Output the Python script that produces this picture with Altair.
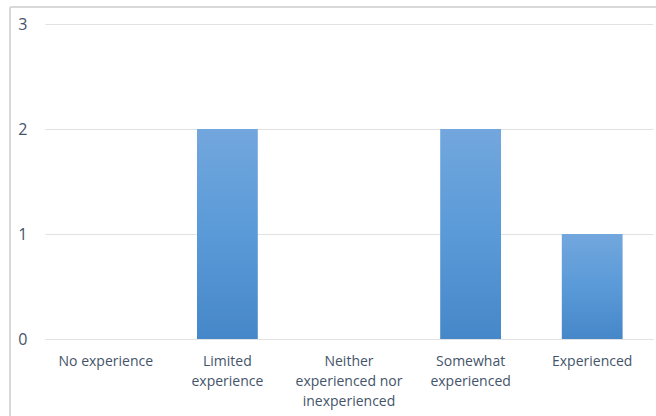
import altair as alt
import pandas as pd
import json

categories = ["No experience", "Limited experience", "Neither experienced nor inexperienced",
              "Somewhat experienced", "Experienced"]
label_lines = [["No experience"], ["Limited", "experience"], ["Neither", "experienced nor", "inexperienced"],
               ["Somewhat", "experienced"], ["Experienced"]]
counts = [0, 2, 0, 2, 1]
y_ticks = [0, 1, 2, 3]

df = pd.DataFrame({"category": categories, "count": counts})

mapping = json.dumps(dict(zip(categories, label_lines)))
label_expr = f"{mapping}[datum.label]"

TEXT = "#44546A"
GRID = "#E2E2E2"

bars = alt.Chart(df).mark_bar(
    color=alt.Gradient(
        gradient="linear",
        stops=[alt.GradientStop(color="#72A7DD", offset=0),
               alt.GradientStop(color="#5A9AD8", offset=0.5),
               alt.GradientStop(color="#4687C9", offset=1)],
        x1=0, x2=0, y1=0, y2=1,
    ),
).encode(
    x=alt.X("category:N", sort=categories,
            scale=alt.Scale(paddingInner=0.5, paddingOuter=0.25),
            axis=alt.Axis(title=None, labelAngle=0, labelExpr=label_expr,
                          labelFont="Open Sans", labelFontSize=14, labelColor=TEXT,
                          labelLineHeight=20, labelPadding=15, ticks=False,
                          domain=True, domainColor=GRID, grid=False, labelBaseline="top")),
    y=alt.Y("count:Q", scale=alt.Scale(domain=[0, 3], nice=False),
            axis=alt.Axis(title=None, values=y_ticks, format="d",
                          labelFont="Open Sans", labelFontSize=16, labelColor=TEXT,
                          labelPadding=18, ticks=False, domain=False,
                          grid=True, gridColor=GRID, gridWidth=1)),
)

top_border = alt.Chart(df).mark_rule(color="#D9D9D9", strokeWidth=1.5).encode(
    x=alt.value(-35), x2=alt.value(620), y=alt.value(-17)
)
left_border = alt.Chart(df).mark_rule(color="#D9D9D9", strokeWidth=1.5).encode(
    x=alt.value(-35), y=alt.value(-17), y2=alt.value(400)
)

chart = alt.layer(top_border, left_border, bars).properties(
    width=608, height=315,
    autosize=alt.AutoSizeParams(type="none"),
    padding={"left": 45, "top": 24, "right": 3, "bottom": 77},
    background="white",
).configure_view(stroke=None)

chart.save("out.html", embed_options={"renderer": "svg", "actions": False})
